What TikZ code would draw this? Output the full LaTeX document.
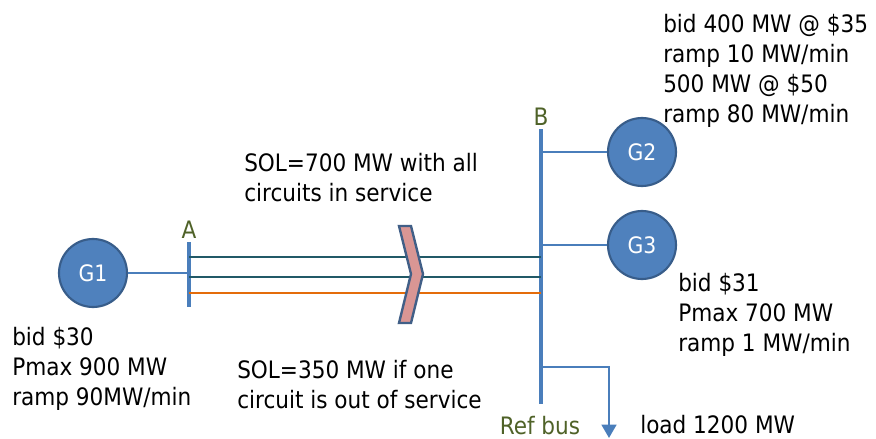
\documentclass[tikz,border=0pt]{standalone}
\usepackage{fontspec}
\setmainfont{DejaVu Sans Condensed}
\usetikzlibrary{arrows.meta}
\definecolor{busblue}{RGB}{74,126,187}
\definecolor{gfill}{RGB}{79,129,189}
\definecolor{gborder}{RGB}{56,93,138}
\definecolor{lineteal}{RGB}{33,89,103}
\definecolor{lineorange}{RGB}{228,108,10}
\definecolor{labgreen}{RGB}{79,98,40}
\definecolor{chevfill}{RGB}{217,150,148}
\definecolor{chevborder}{RGB}{65,95,135}
\tikzset{
  gen/.style={circle, fill=gfill, draw=gborder, line width=1.6pt, minimum size=51pt, inner sep=0pt, text=white, font=\fontsize{17}{20}\selectfont},
  bus/.style={busblue, line width=3pt},
  tie/.style={busblue, line width=1.9pt},
  txt/.style={anchor=base west, inner sep=0pt, align=left, font=\fontsize{18}{22.5}\selectfont},
  buslab/.style={anchor=base, inner sep=0pt, text=labgreen, font=\fontsize{18}{22.5}\selectfont},
  circuit/.style={line width=1.8pt}
}
\begin{document}
\begin{tikzpicture}[x=0.75pt,y=-0.75pt]
\useasboundingbox (0,0) rectangle (876,439);
% buses
\coordinate (Atop) at (189,242);
\coordinate (Abot) at (189,307);
\coordinate (Btop) at (541,129);
\coordinate (Bbot) at (541,404);
\draw[bus] (Atop) -- (Abot);
\draw[bus] (Btop) -- (Bbot);
\node[buslab] (labA) at (189,238) {A};
\node[buslab] (labB) at (541,125) {B};
\node[buslab] (labRef) at (540,434) {Ref bus};
% generators
\node[gen] (g1) at (93,273) {G1};
\node[gen] (g2) at (642,152) {G2};
\node[gen] (g3) at (642,245) {G3};
\draw[tie] (g1.east) -- (g1.east -| Atop);
\draw[tie] (g2.west -| Btop) -- (g2.west);
\draw[tie] (g3.west -| Btop) -- (g3.west);
% circuits
\coordinate (c1a) at (189,257); \coordinate (c1b) at (541,257);
\coordinate (c2a) at (189,277); \coordinate (c2b) at (541,277);
\coordinate (c3a) at (189,293); \coordinate (c3b) at (541,293);
\draw[circuit, lineteal] (c1a) -- (c1b);
\draw[circuit, lineteal] (c2a) -- (c2b);
\draw[circuit, lineorange] (c3a) -- (c3b);
% chevron
\draw[fill=chevfill, draw=chevborder, line width=1.8pt, line join=miter]
  (399,226) -- (411,226) -- (423,274) -- (411,323) -- (399,323) -- (411,274) -- cycle;
% load
\coordinate (ld1) at (541,367);
\coordinate (ld2) at (609,367);
\coordinate (ld3) at (609,438);
\draw[tie, -{Triangle[width=11pt,length=10pt]}] (ld1) -- (ld2) -- (ld3);
% texts
\node[txt] (t1) at (12,405) {bid \$30\\Pmax 900 MW\\ramp 90MW/min};
\node[txt] (t2) at (663,122) {bid 400 MW @ \$35\\ramp 10 MW/min\\500 MW @ \$50\\ramp 80 MW/min};
\node[txt] (t3) at (678,351) {bid \$31\\Pmax 700 MW\\ramp 1 MW/min};
\node[txt] (t4) at (244,201) {SOL=700 MW with all\\circuits in service};
\node[txt] (t5) at (237,408) {SOL=350 MW if one\\circuit is out of service};
\node[txt] (t6) at (640,433) {load 1200 MW};
\end{tikzpicture}
\end{document}
